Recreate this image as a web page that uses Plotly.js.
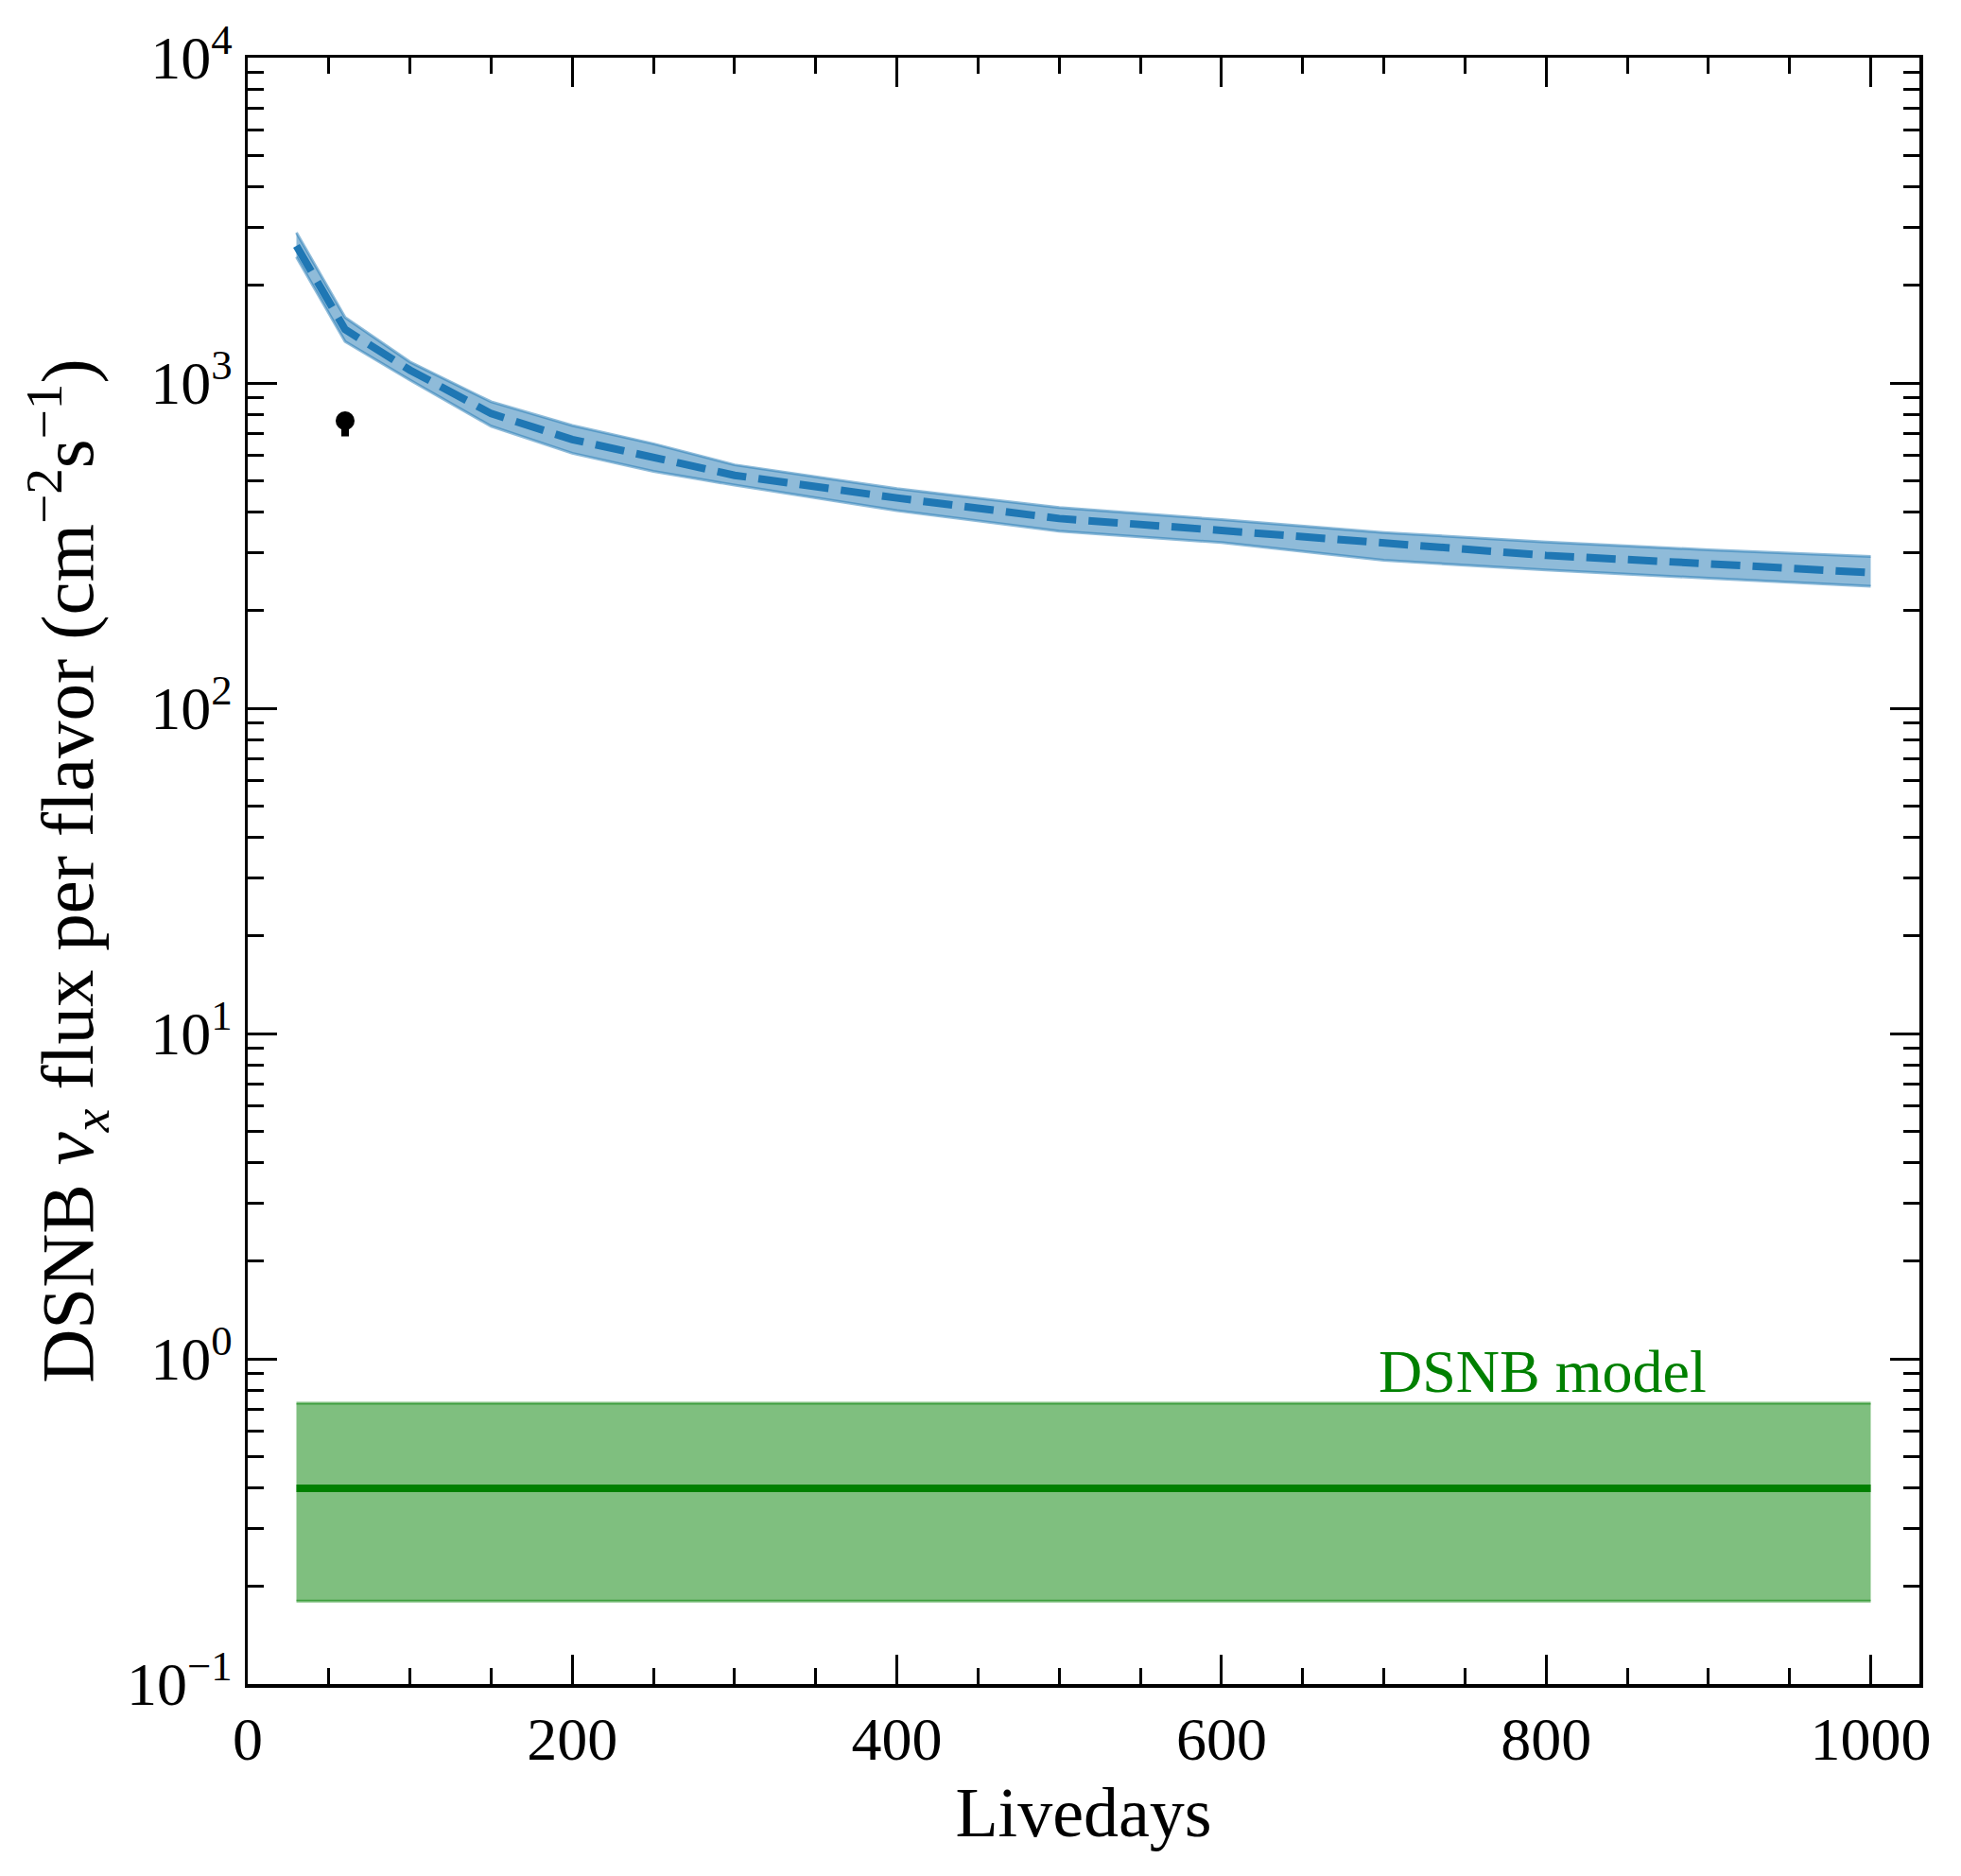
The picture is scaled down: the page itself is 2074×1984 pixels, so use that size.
<!DOCTYPE html>
<html>
<head>
<meta charset="utf-8">
<script src="https://cdn.plot.ly/plotly-3.0.1.min.js"></script>
<style>
  html, body { margin: 0; padding: 0; background: white; }
  #chart { width: 2074px; height: 1984px; }
</style>
</head>
<body>
<div id="chart"></div>
<script>
// Sensitivity curve
var livedays   = [30, 60, 100, 150, 200, 250, 300, 400, 500, 600, 700, 800, 900, 1000];
var fluxMedian = [2640, 1460, 1095, 805, 670, 590, 520, 443, 383, 352, 321, 295, 278, 261];
var fluxUpper  = [2900, 1590, 1160, 875, 740, 650, 560, 473, 414, 380, 347, 324, 307, 293];
var fluxLower  = [2440, 1340, 1020, 736, 608, 535, 485, 405, 350, 323, 285, 266, 251, 237];

// Measured point
var pointX = [60];
var pointY = [765];
var pointErrUp = [30];
var pointErrDown = [80];

// DSNB model prediction band
var modelX = [30, 1000];
var modelCentral = [0.40, 0.40];
var modelUpper = [0.73, 0.73];
var modelLower = [0.18, 0.18];

// y tick labels
var yDecades = [0.1, 1, 10, 100, 1000, 10000];
var yTickText = ['10<sup>\u22121</sup>', '10<sup>0</sup>', '10<sup>1</sup>', '10<sup>2</sup>', '10<sup>3</sup>', '10<sup>4</sup>'];
var yMinor = [];
yDecades.slice(0, -1).forEach(function(d) {
    [2, 3, 4, 5, 6, 7, 8, 9].forEach(function(m) { yMinor.push(d * m); });
});

var blue = '#1f77b4';
var blueBand = 'rgba(31,119,180,0.5)';
var green = '#008000';
var greenBand = 'rgba(0,128,0,0.5)';

var traces = [
    { x: livedays, y: fluxLower, mode: 'lines', line: { color: blueBand, width: 3 }, hoverinfo: 'skip' },
    { x: livedays, y: fluxUpper, mode: 'lines', fill: 'tonexty', fillcolor: blueBand,
      line: { color: blueBand, width: 3 }, hoverinfo: 'skip' },
    { x: livedays, y: fluxMedian, mode: 'lines', line: { color: blue, width: 8, dash: '31px,13px' } },
    { x: modelX, y: modelLower, mode: 'lines', line: { color: greenBand, width: 3 }, hoverinfo: 'skip' },
    { x: modelX, y: modelUpper, mode: 'lines', fill: 'tonexty', fillcolor: greenBand,
      line: { color: greenBand, width: 3 }, hoverinfo: 'skip' },
    { x: modelX, y: modelCentral, mode: 'lines', line: { color: green, width: 8 } },
    { x: pointX, y: pointY, mode: 'markers', marker: { color: 'black', size: 20 },
      error_y: { type: 'data', symmetric: false, array: pointErrUp, arrayminus: pointErrDown,
                 color: 'black', thickness: 8, width: 0 } }
];

var serif = 'Liberation Serif, Times New Roman, serif';
var tickFont = { family: serif, size: 64, color: 'black' };

var layout = {
    width: 2074, height: 1984,
    paper_bgcolor: 'white', plot_bgcolor: 'white',
    showlegend: false,
    margin: { l: 262, r: 44, t: 61, b: 203 },
    xaxis: {
        range: [0, 1030], tickmode: 'array', tickvals: [0, 200, 400, 600, 800, 1000],
        ticks: 'inside', ticklen: 31, tickwidth: 3, tickcolor: 'black',
        minor: { dtick: 50, ticks: 'inside', ticklen: 17, tickwidth: 3, tickcolor: 'black', showgrid: false },
        showline: true, linewidth: 3.5, linecolor: 'black', mirror: 'allticks',
        showgrid: false, zeroline: false, tickfont: tickFont, ticklabelstandoff: 0,
        title: { text: 'Livedays', font: { family: serif, size: 74, color: 'black' }, standoff: 17 }
    },
    yaxis: {
        type: 'log', range: [-1, 4], tickmode: 'array', tickvals: yDecades, ticktext: yTickText,
        ticks: 'inside', ticklen: 31, tickwidth: 3, tickcolor: 'black',
        minor: { tickmode: 'array', tickvals: yMinor, ticks: 'inside', ticklen: 17, tickwidth: 3,
                 tickcolor: 'black', showgrid: false },
        showline: true, linewidth: 3.5, linecolor: 'black', mirror: 'allticks',
        showgrid: false, zeroline: false, tickfont: tickFont, ticklabelstandoff: 0,
        title: { text: 'DSNB <i>\u03bd<sub>x</sub></i> flux per flavor (cm<sup>\u22122</sup>s<sup>\u22121</sup>)',
                 font: { family: serif, size: 79, color: 'black' }, standoff: 10 }
    },
    annotations: [{
        x: 798, y: Math.log10(modelUpper[0]), xref: 'x', yref: 'y', text: 'DSNB model', showarrow: false,
        xanchor: 'center', yanchor: 'bottom', yshift: -4,
        font: { family: serif, size: 64, color: green }
    }]
};

Plotly.newPlot('chart', traces, layout, { displayModeBar: false, staticPlot: true });
</script>
</body>
</html>
